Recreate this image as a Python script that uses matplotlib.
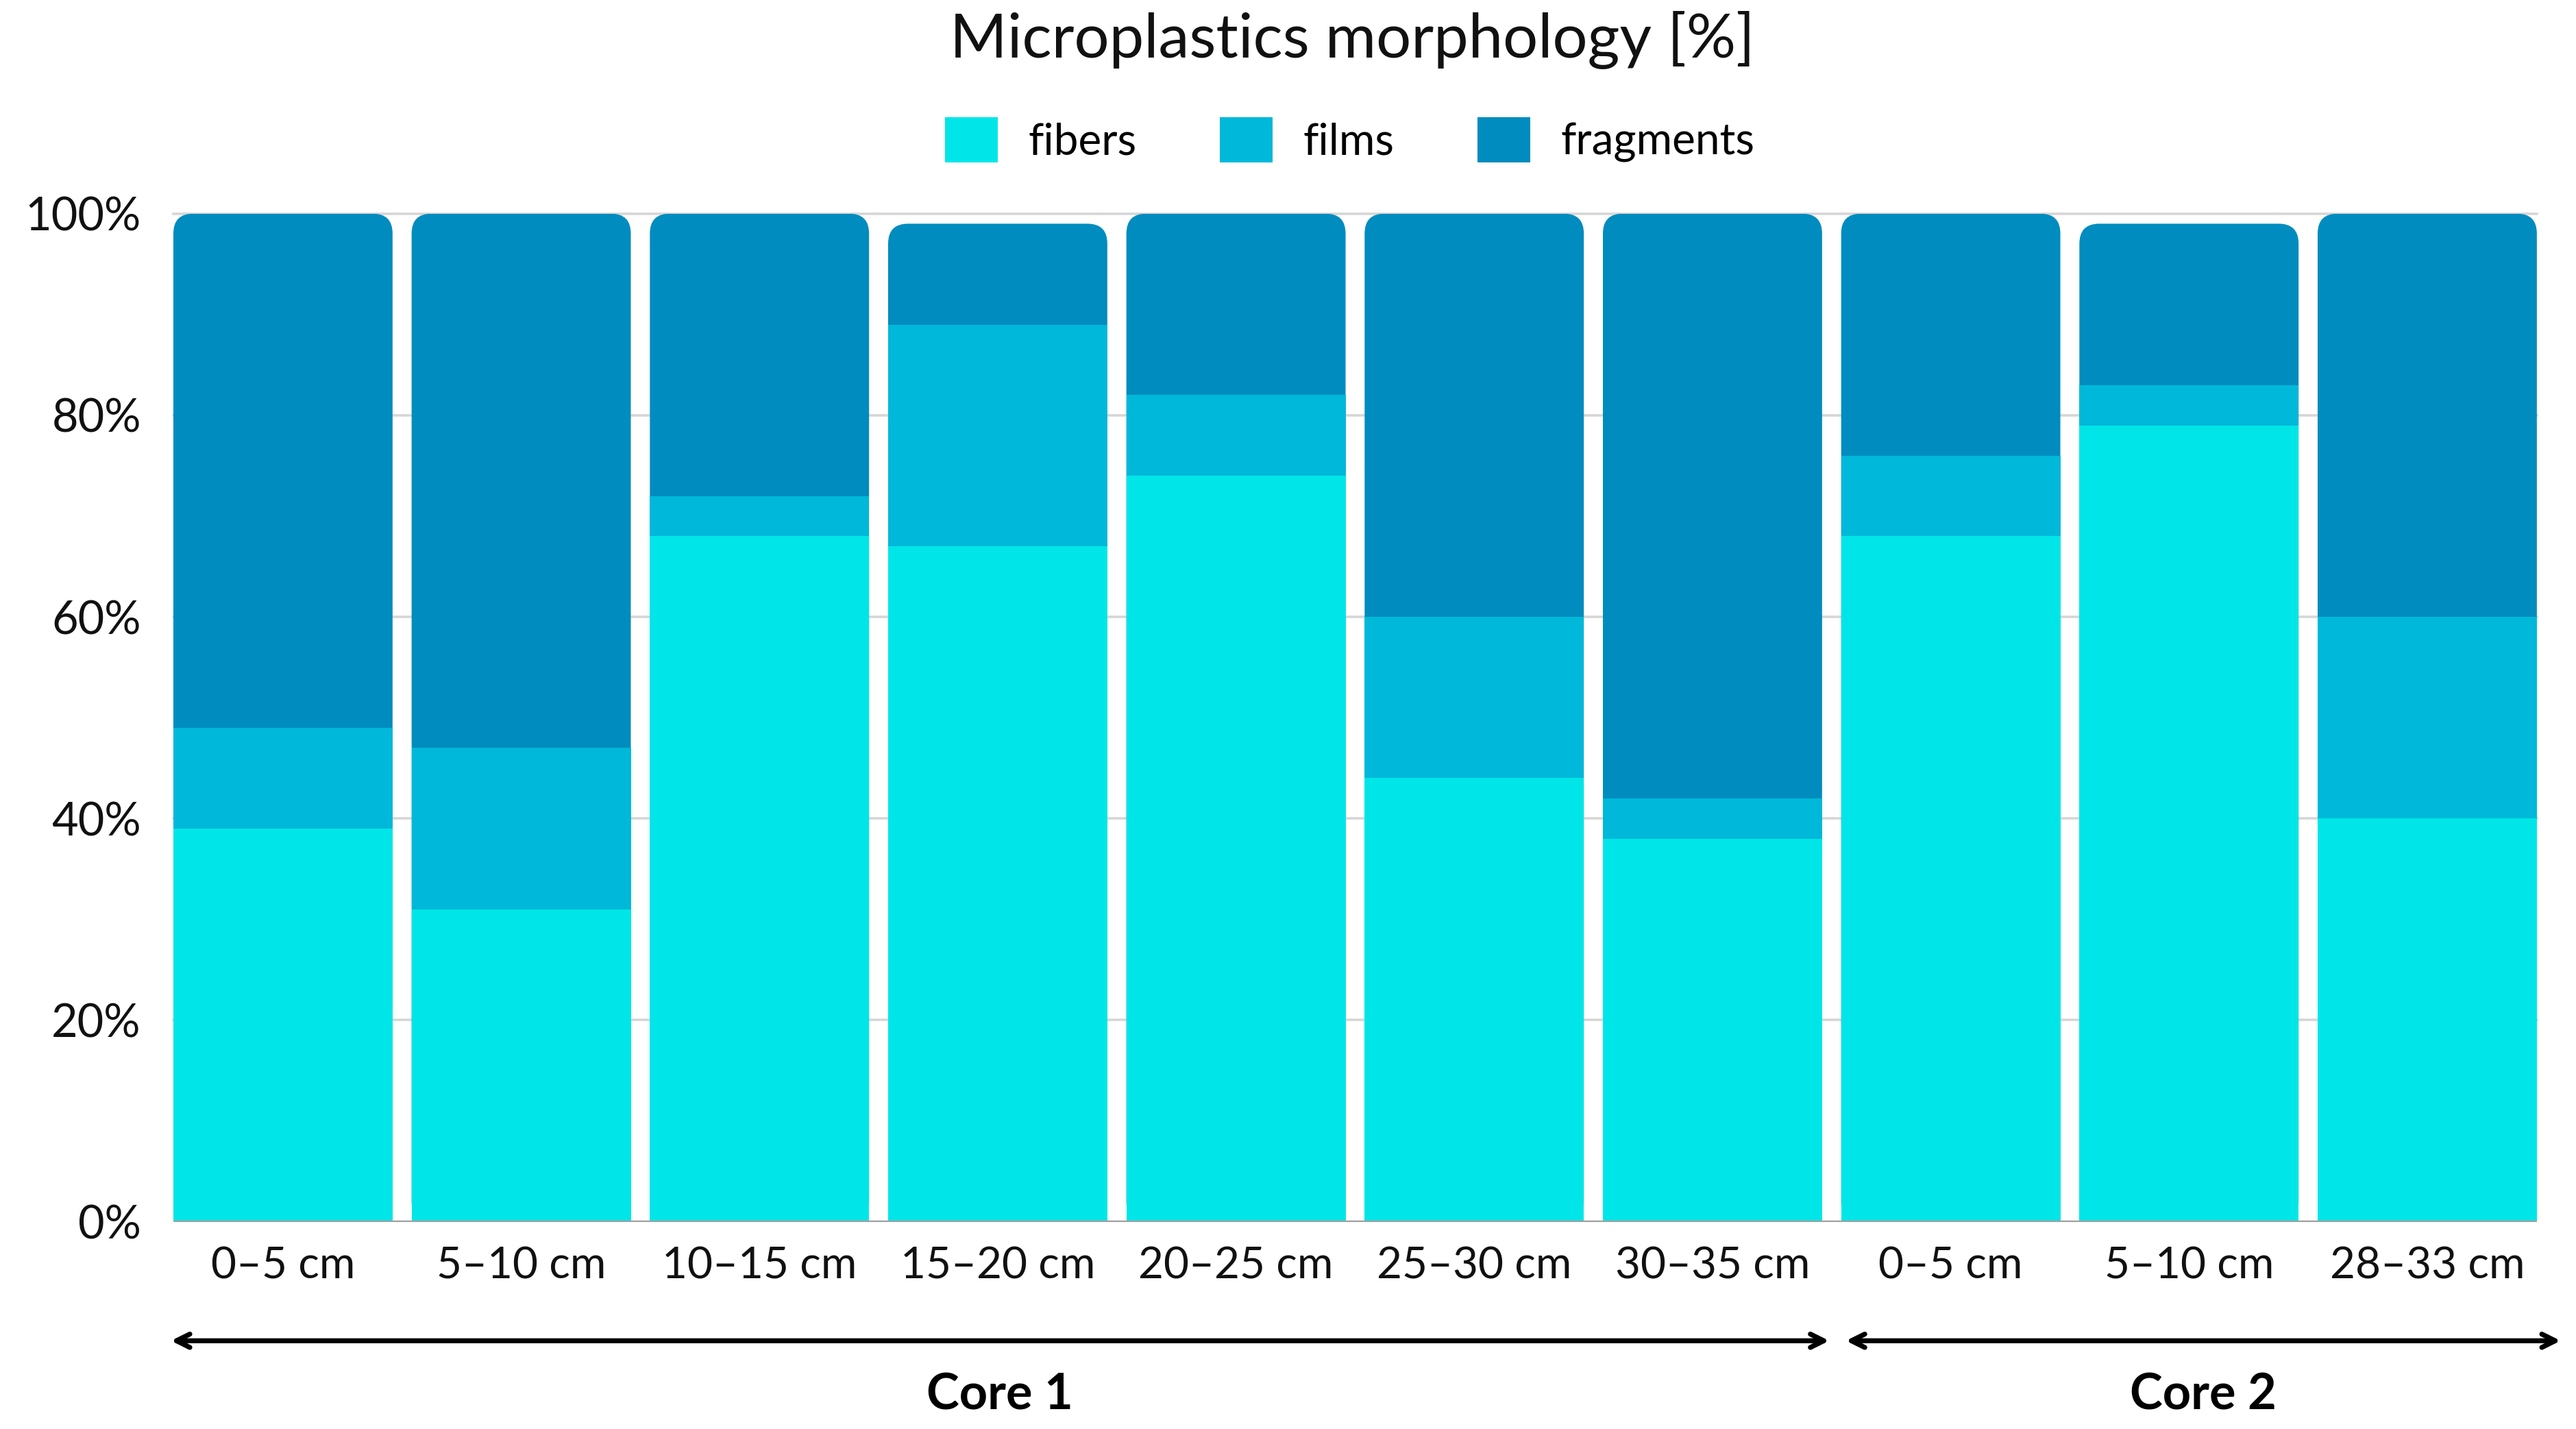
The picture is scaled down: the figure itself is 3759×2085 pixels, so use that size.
import numpy as np
import matplotlib
matplotlib.use("Agg")
import matplotlib.pyplot as plt
from matplotlib.patches import FancyBboxPatch, Patch

plt.rcParams["font.family"] = ["Lato", "DejaVu Sans"]

# ── data ───────────────────────────────────────────────────────────
depths    = ["0–5 cm", "5–10 cm", "10–15 cm", "15–20 cm", "20–25 cm",
             "25–30 cm", "30–35 cm", "0–5 cm", "5–10 cm", "28–33 cm"]
fibers    = [39, 31, 68, 67, 74, 44, 38, 68, 79, 40]
films     = [10, 16, 4, 22, 8, 16, 4, 8, 4, 20]
fragments = [51, 53, 28, 10, 18, 40, 58, 24, 16, 40]
cores     = ["Core 1", "Core 2"]
core_size = [7, 3]
yticks    = [0, 20, 40, 60, 80, 100]

colors = {"fibers": "#00E6E8", "films": "#00B8D9", "fragments": "#008CBE"}

W, H, DPI = 3759, 2085, 200
fig = plt.figure(figsize=(W / DPI, H / DPI), dpi=DPI)
ax = fig.add_axes([0.0673, 0.1450, 0.9175, 0.7055])

x = np.arange(len(depths))
bw = 0.92
ax.set_xlim(-0.46, len(depths) - 1 + 0.46)
ax.set_ylim(0, 100)

# gridlines (drawn by hand so the 100% line is not clipped)
for t in yticks[1:]:
    ax.axhline(t, color="#D6D6D6", lw=1.3, zorder=0, clip_on=False)

# aspect correction so the rounded corners look circular
ax_w = ax.get_position().width * W
ax_h = ax.get_position().height * H
x_per_px = np.diff(ax.get_xlim())[0] / ax_w
y_per_px = np.diff(ax.get_ylim())[0] / ax_h
asp = y_per_px / x_per_px
r = 29 * x_per_px

fib = np.array(fibers)
fil = np.array(films)
frag = np.array(fragments)
total = fib + fil + frag

for i in range(len(depths)):
    # full-height rounded box in the top colour, then the lower stacks over it
    box = FancyBboxPatch((x[i] - bw / 2, 0), bw, total[i],
                         boxstyle=f"round,pad=0,rounding_size={r}",
                         mutation_aspect=asp, fc=colors["fragments"],
                         ec="none", zorder=2)
    ax.add_patch(box)
ax.bar(x, fil, bw, bottom=fib, color=colors["films"], zorder=3)
ax.bar(x, fib, bw, color=colors["fibers"], zorder=3)

ax.axhline(0, color="#A0A0A0", lw=1.6, zorder=4)

for s in ax.spines.values():
    s.set_visible(False)
ax.set_yticks(yticks)
ax.set_yticklabels([f"{t}%" for t in yticks])
ax.set_xticks(x)
ax.set_xticklabels(depths)
ax.tick_params(axis="both", length=0, labelsize=23, colors="#111111")
ax.tick_params(axis="y", labelsize=24, pad=17)
ax.tick_params(axis="x", pad=13)

# core arrows + labels (arrow overhang past the outer bars, per core)
pad_left  = [0.47, 0.44]
pad_right = [0.49, 0.56]
start = 0
for name, n, pl, pr in zip(cores, core_size, pad_left, pad_right):
    x0 = start - pl
    x1 = start + n - 1 + pr
    ax.annotate("", xy=(x0, -0.118), xytext=(x1, -0.118),
                xycoords=("data", "axes fraction"),
                textcoords=("data", "axes fraction"),
                arrowprops=dict(arrowstyle="<->,head_length=0.7,head_width=0.35",
                                lw=2.6, color="black", shrinkA=0, shrinkB=0),
                annotation_clip=False)
    ax.text((x0 + x1) / 2, -0.172, name, transform=ax.get_xaxis_transform(),
            ha="center", va="center", fontsize=26, fontweight="bold")
    start += n

fig.text(0.525, 0.972, "Microplastics morphology [%]", ha="center", va="center",
         fontsize=32.5, color="#111111")

handles = [Patch(fc=colors[k], ec="none", label=k)
           for k in ["fibers", "films", "fragments"]]
fig.legend(handles=handles, loc="center", bbox_to_anchor=(0.524, 0.902),
           ncol=3, frameon=False, fontsize=23, handlelength=1.2,
           handleheight=1.2, handletextpad=0.7, columnspacing=1.9)

fig.savefig("out.png", dpi=DPI, facecolor="white")
